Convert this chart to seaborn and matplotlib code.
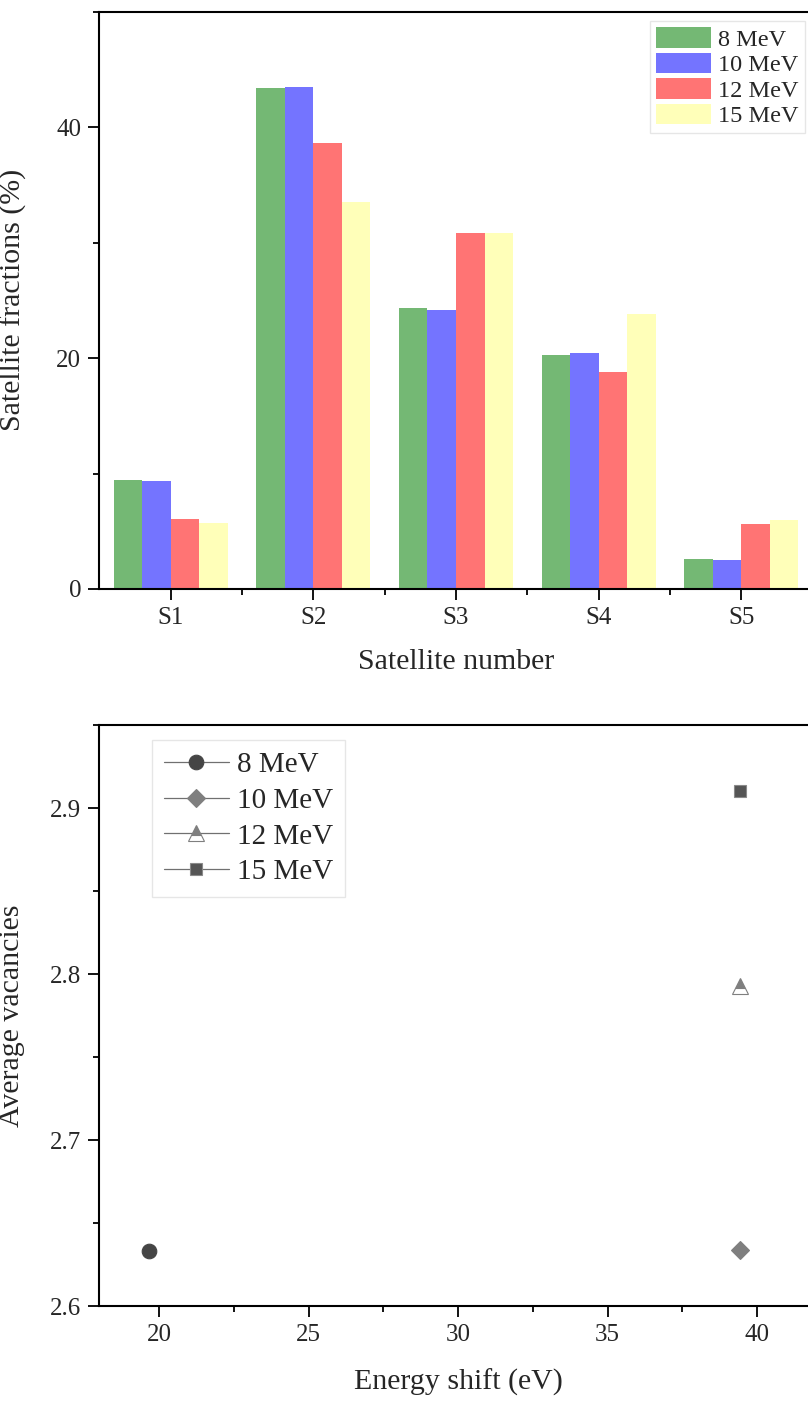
import pandas as pd
import matplotlib
matplotlib.use("Agg")
import matplotlib.pyplot as plt
from matplotlib.ticker import MultipleLocator
import seaborn as sns

# --- data ---
satellites = ["S1", "S2", "S3", "S4", "S5"]
energies = ["8 MeV", "10 MeV", "12 MeV", "15 MeV"]
frac_8 = [9.46, 43.43, 24.30, 20.24, 2.59]
frac_10 = [9.39, 43.47, 24.18, 20.42, 2.52]
frac_12 = [6.10, 38.60, 30.80, 18.78, 5.59]
frac_15 = [5.74, 33.50, 30.87, 23.85, 5.99]

shift_ev = [19.66, 39.42, 39.42, 39.42]
avg_vac = [2.633, 2.634, 2.793, 2.910]

bar_colors = ["#74B874", "#7474FF", "#FF7474", "#FFFFB9"]

rows = []
for e, vals in zip(energies, [frac_8, frac_10, frac_12, frac_15]):
    for s, v in zip(satellites, vals):
        rows.append({"Satellite": s, "Energy": e, "Fraction": v})
df_bar = pd.DataFrame(rows)

sns.set_theme(style="ticks")
plt.rcParams["font.family"] = ["Liberation Serif", "DejaVu Serif"]

fig = plt.figure(figsize=(8.08, 14.01), dpi=100)
ax1 = fig.add_axes([0.1229, 0.5796, 0.883, 0.412])
ax2 = fig.add_axes([0.1229, 0.0678, 0.888, 0.4147])

# --- top: grouped bars ---
sns.barplot(data=df_bar, x="Satellite", y="Fraction", hue="Energy",
            palette=bar_colors, saturation=1, width=0.8, linewidth=0,
            ax=ax1)
ax1.set_xlim(-0.5, 4.5)
ax1.set_ylim(0, 50)
ax1.yaxis.set_major_locator(MultipleLocator(20))
ax1.yaxis.set_minor_locator(MultipleLocator(10))
ax1.set_xticks([0.5, 1.5, 2.5, 3.5], minor=True)
ax1.set_xlabel("Satellite number", fontsize=21.5)
ax1.set_ylabel("Satellite fractions (%)", fontsize=21.5)
ax1.xaxis.set_label_coords(0.5, -0.104)
ax1.yaxis.set_label_coords(-0.101, 0.5)
ax1.legend(loc="upper right", bbox_to_anchor=(805 / 808, 1 - 21 / 1401),
           bbox_transform=fig.transFigure, borderaxespad=0, fontsize=17.5,
           handlelength=2.25, handleheight=0.92, labelspacing=0.08,
           handletextpad=0.3, borderpad=0.25, fancybox=False,
           edgecolor="#E6E6E6", framealpha=1)

# --- bottom: average vacancies ---
marker_specs = [
    dict(marker="o", markersize=10.5, markerfacecolor="#454545",
         markeredgecolor="#454545", fillstyle="full"),
    dict(marker="D", markersize=9, markerfacecolor="#7F7F7F",
         markeredgecolor="#7F7F7F", fillstyle="full"),
    dict(marker="^", markersize=11, markerfacecolor="#7F7F7F",
         markerfacecoloralt="white", markeredgecolor="#7F7F7F",
         fillstyle="top"),
    dict(marker="s", markersize=9, markerfacecolor="#555555",
         markeredgecolor="#8A8A8A", fillstyle="full"),
]
for e, x, y, spec in zip(energies, shift_ev, avg_vac, marker_specs):
    pt = pd.DataFrame({"x": [x], "y": [y]})
    sns.lineplot(data=pt, x="x", y="y", color="#707070", linewidth=0.9,
                 markeredgewidth=0.8, label=e, ax=ax2, **spec)

ax2.set_xlim(18, 42)
ax2.set_ylim(2.6, 2.95)
ax2.xaxis.set_major_locator(MultipleLocator(5))
ax2.xaxis.set_minor_locator(MultipleLocator(2.5))
ax2.yaxis.set_major_locator(MultipleLocator(0.1))
ax2.yaxis.set_minor_locator(MultipleLocator(0.05))
ax2.set_xlabel("Energy shift (eV)", fontsize=21.5)
ax2.set_ylabel("Average vacancies", fontsize=21.5)
ax2.xaxis.set_label_coords(0.5, -0.108)
ax2.yaxis.set_label_coords(-0.104, 0.5)
ax2.legend(loc="upper left", bbox_to_anchor=(152 / 808, 1 - 740 / 1401),
           bbox_transform=fig.transFigure, borderaxespad=0, fontsize=21,
           handlelength=2.25, labelspacing=0.32, handletextpad=0.25,
           borderpad=0.4, fancybox=False, edgecolor="#E6E6E6",
           framealpha=1)

for ax in (ax1, ax2):
    for side in ["left", "bottom", "top", "right"]:
        ax.spines[side].set_linewidth(1.5)
        ax.spines[side].set_color("black")
    ax.tick_params(which="major", direction="out", length=8, width=1.3,
                   labelsize=18, pad=5, color="black", top=False,
                   right=False)
    ax.tick_params(which="minor", direction="out", length=4.3, width=1.3,
                   color="black", top=False, right=False)

fig.savefig("out.png", dpi=100)
